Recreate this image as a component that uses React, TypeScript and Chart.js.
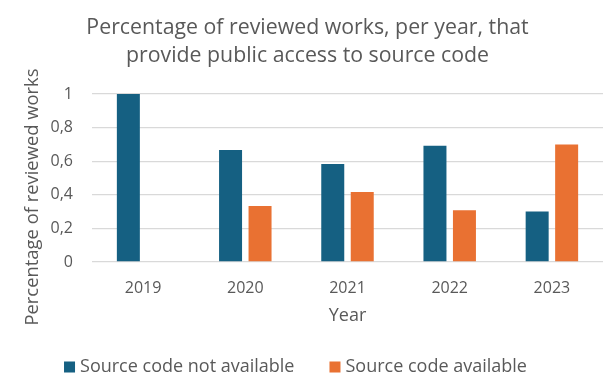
import React, { useEffect, useRef } from "react";
import { Chart, registerables } from "chart.js";

Chart.register(...registerables);

const categories = ["2019", "2020", "2021", "2022", "2023"];
const notAvailable = [1.0, 0.667, 0.583, 0.692, 0.3];
const available = [0, 0.333, 0.417, 0.308, 0.7];
const yTicks = [0, 0.2, 0.4, 0.6, 0.8, 1];
const titleLines = ["Percentage of reviewed works, per year, that", "provide public access to source code"];
const seriesNames = ["Source code not available", "Source code available"];
const seriesColors = ["#156082", "#E97132"];
const yTitle = "Percentage of reviewed works";
const xTitle = "Year";

const FONT = "'Open Sans', sans-serif";
const TXT = "#595959";

const textPlugin = {
  id: "textPlugin",
  afterDraw(chart: any) {
    const ctx = chart.ctx;
    // chart title
    ctx.save();
    ctx.font = `21.3px ${FONT}`;
    ctx.fillStyle = TXT;
    ctx.textAlign = "center";
    ctx.textBaseline = "alphabetic";
    titleLines.forEach((line, i) => ctx.fillText(line, 307.5, 34 + i * 27.5));
    ctx.restore();
    // y-axis title
    ctx.save();
    ctx.translate(33, 197);
    ctx.rotate(-Math.PI / 2);
    ctx.font = `18.4px ${FONT}`;
    ctx.fillStyle = TXT;
    ctx.textAlign = "center";
    ctx.textBaseline = "middle";
    ctx.fillText(yTitle, 0, 0);
    ctx.restore();
    // legend
    ctx.save();
    ctx.font = `18px ${FONT}`;
    const box = 11;
    const gapBoxText = 5;
    const gapItems = 35;
    const widths = seriesNames.map((n) => ctx.measureText(n).width);
    const total = widths.reduce((a, w) => a + box + gapBoxText + w, 0) + gapItems * (seriesNames.length - 1);
    const cy = 367;
    let x = 295.5 - total / 2;
    seriesNames.forEach((name, i) => {
      ctx.fillStyle = seriesColors[i];
      ctx.fillRect(x, cy - box / 2, box, box);
      x += box + gapBoxText;
      ctx.fillStyle = TXT;
      ctx.textAlign = "left";
      ctx.textBaseline = "middle";
      ctx.fillText(name, x, cy);
      x += widths[i] + gapItems;
    });
    ctx.restore();
  },
};

export default function App() {
  const ref = useRef<HTMLCanvasElement>(null);
  useEffect(() => {
    document.body.style.margin = "0";
    const chart = new Chart(ref.current!, {
      type: "bar",
      data: {
        labels: categories,
        datasets: [
          { label: seriesNames[0], data: notAvailable, backgroundColor: seriesColors[0] },
          { label: seriesNames[1], data: available, backgroundColor: seriesColors[1] },
        ],
      },
      options: {
        animation: false,
        responsive: false,
        maintainAspectRatio: false,
        layout: { padding: { left: 0, right: 13, top: 94, bottom: 65 } },
        datasets: { bar: { categoryPercentage: 0.577, barPercentage: 0.78 } } as any,
        plugins: {
          title: { display: false },
          legend: { display: false },
          tooltip: { enabled: false },
        },
        scales: {
          x: {
            afterFit(scale: any) {
              scale.height = 65;
            },
            grid: { display: false, drawTicks: false },
            border: { display: false },
            ticks: { color: TXT, font: { family: FONT, size: 16 }, padding: 16.5 },
            title: { display: true, text: xTitle, color: TXT, font: { family: FONT, size: 18 }, padding: { top: 9, bottom: 0 } },
          },
          y: {
            min: 0,
            max: 1,
            afterFit(scale: any) {
              scale.width = 92;
            },
            afterBuildTicks(scale: any) {
              scale.ticks = yTicks.map((v) => ({ value: v }));
            },
            grid: { color: "#D9D9D9", lineWidth: 1.3, drawTicks: false },
            border: { display: false },
            ticks: {
              color: TXT,
              font: { family: FONT, size: 16 },
              padding: 19,
              callback: (v: any) => String(v).replace(".", ","),
            },
          },
        },
      },
      plugins: [textPlugin],
    });
    return () => chart.destroy();
  }, []);
  return (
    <div style={{ width: 616, height: 392 }}>
      <canvas ref={ref} width={616} height={392} style={{ display: "block" }} />
    </div>
  );
}
